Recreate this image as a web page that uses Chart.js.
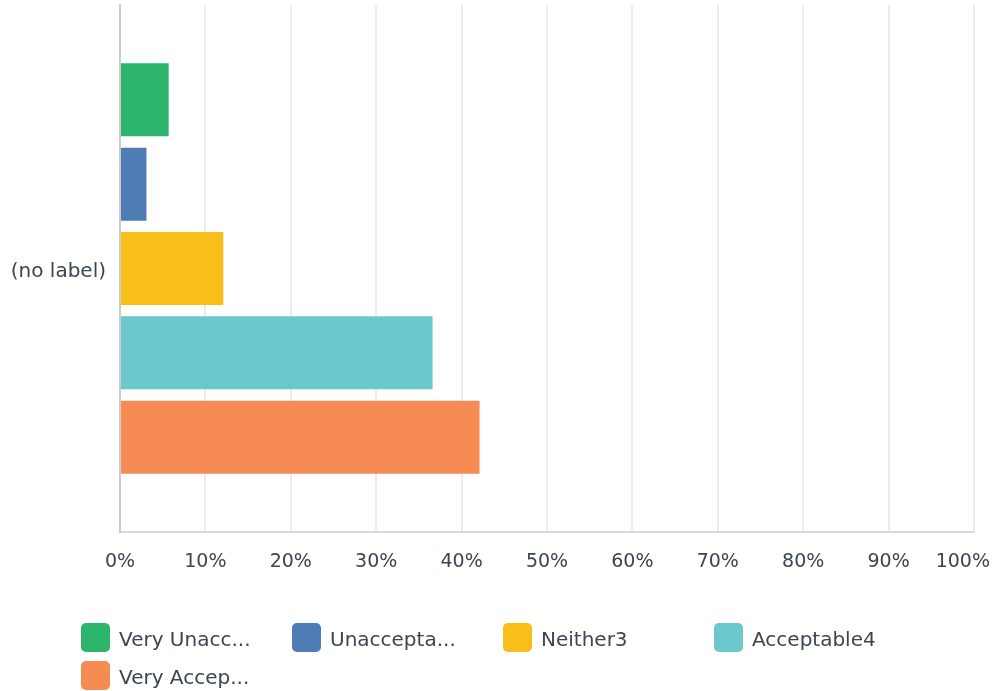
<!DOCTYPE html>
<html>
<head>
<meta charset="utf-8">
<script src="https://cdn.jsdelivr.net/npm/chart.js@4/dist/chart.umd.min.js"></script>
<style>
  html, body { margin: 0; padding: 0; background: #ffffff; }
  #wrap { position: relative; width: 994px; height: 691px; overflow: hidden; }
  #chart { position: absolute; left: 0; top: 0; }
  .lg { position: absolute; height: 29px; white-space: nowrap;
        font-family: "DejaVu Sans", sans-serif; font-size: 20px; color: #3b4651; }
  .lg .box { position: absolute; left: 0; top: 0; width: 29px; height: 29px; border-radius: 5px; }
  .lg .txt { position: absolute; left: 38px; top: 0; line-height: 29px; padding-top: 2px; }
</style>
</head>
<body>
<div id="wrap">
  <canvas id="chart" width="994" height="691"></canvas>
  <div id="legend"></div>
</div>
<script>
// ---- data ----
const categories = ["(no label)"];
const seriesNames = ["Very Unacceptable1", "Unacceptable2", "Neither3", "Acceptable4", "Very Acceptable5"];
const legendLabels = ["Very Unacc...", "Unaccepta...", "Neither3", "Acceptable4", "Very Accep..."];
const seriesValues = [5.7, 3.1, 12.1, 36.6, 42.1];
const seriesColors = ["#2db56c", "#507cb6", "#f7bf17", "#6bc8cc", "#f68b53"];
const xTickValues = [0, 10, 20, 30, 40, 50, 60, 70, 80, 90, 100];
const xTickLabels = ["0%", "10%", "20%", "30%", "40%", "50%", "60%", "70%", "80%", "90%", "100%"];

const TEXT = "#3b4651";
const FONT = '"DejaVu Sans", sans-serif';

const datasets = seriesNames.map((name, i) => ({
  label: name,
  data: [seriesValues[i]],
  backgroundColor: seriesColors[i],
  borderWidth: 0,
  barPercentage: 0.866,
  categoryPercentage: 0.8
}));

const xLabelPlugin = {
  id: 'xLabels',
  afterDraw(chart) {
    const sc = chart.scales.x;
    const ctx = chart.ctx;
    ctx.save();
    ctx.font = '19px ' + FONT;
    ctx.fillStyle = TEXT;
    ctx.textBaseline = 'middle';
    ctx.textAlign = 'left';
    xTickValues.forEach((v, i) => {
      const t = xTickLabels[i];
      const w = ctx.measureText(t).width;
      let x = sc.getPixelForValue(v) - w / 2;
      if (x + w > chart.width - 4) x = chart.width - 4 - w;
      ctx.fillText(t, x, chart.chartArea.bottom + 30);
    });
    ctx.restore();
  }
};

new Chart(document.getElementById('chart'), {
  type: 'bar',
  data: { labels: categories, datasets },
  options: {
    indexAxis: 'y',
    responsive: false,
    animation: false,
    devicePixelRatio: 1,
    layout: { padding: { top: 5, right: 20, left: 0, bottom: 0 } },
    plugins: { legend: { display: false }, tooltip: { enabled: false } },
    scales: {
      x: {
        min: 0, max: 100,
        ticks: { display: false, stepSize: 10 },
        grid: { color: '#e9eded', lineWidth: 2, drawTicks: false },
        border: { display: true, color: '#d9d9d9', width: 2 },
        afterFit(scale) { scale.height = 691 - 532; scale.paddingLeft = 0; scale.paddingRight = 0; }
      },
      y: {
        ticks: { color: TEXT, font: { family: FONT, size: 20 }, padding: 14, labelOffset: 3 },
        grid: { display: false, drawTicks: false },
        border: { display: true, color: '#cccccc', width: 2 },
        afterFit(scale) { scale.width = 120; scale.paddingTop = 0; scale.paddingBottom = 0; }
      }
    }
  },
  plugins: [xLabelPlugin]
});

// HTML legend
const legend = document.getElementById('legend');
const colX = [81, 292, 503, 714];
const rowY = [623, 661];
legendLabels.forEach((lab, i) => {
  const d = document.createElement('div');
  d.className = 'lg';
  d.style.left = colX[i % 4] + 'px';
  d.style.top = rowY[Math.floor(i / 4)] + 'px';
  const b = document.createElement('span');
  b.className = 'box';
  b.style.background = seriesColors[i];
  const t = document.createElement('span');
  t.className = 'txt';
  t.textContent = lab;
  d.appendChild(b); d.appendChild(t);
  legend.appendChild(d);
});
</script>
</body>
</html>
